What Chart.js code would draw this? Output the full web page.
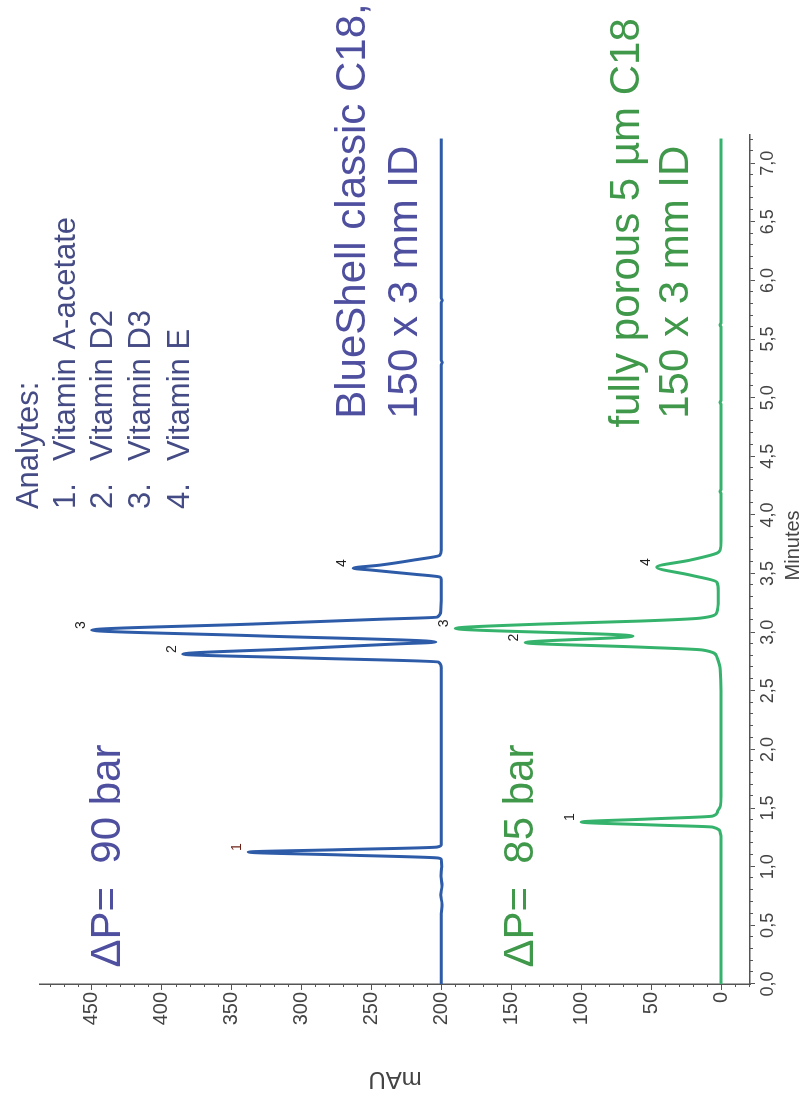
<!DOCTYPE html>
<html>
<head>
<meta charset="utf-8">
<script src="https://cdn.jsdelivr.net/npm/chart.js@4.4.1/dist/chart.umd.min.js"></script>
<style>
  html, body { margin: 0; padding: 0; background: #ffffff; overflow: hidden; }
  #page { position: relative; width: 805px; height: 1102px; background: #ffffff; }
  #wrap { position: absolute; left: 0; top: 0; width: 1102px; height: 805px;
          transform-origin: 0 0; transform: translateY(1102px) rotate(-90deg); }
  canvas { display: block; }
</style>
</head>
<body>
<div id="page"><div id="wrap"><canvas id="c" width="1102" height="805"></canvas></div></div>
<script>
// ---------------- data ----------------
const blueTimes  = [0, 0.30, 0.60, 0.68, 0.76, 0.84, 0.92, 1.00, 1.06, 1.074, 1.10, 1.125, 1.145, 1.168, 1.19, 1.40, 2.00, 2.50, 2.70, 2.745, 2.78, 2.813, 2.86, 2.90, 2.916, 2.97, 3.018, 3.07, 3.11, 3.129, 3.18, 3.30, 3.45, 3.47, 3.495, 3.51, 3.53, 3.546, 3.572, 3.615, 3.657, 3.70, 4.50, 5.28, 5.30, 5.32, 5.81, 5.83, 5.85, 7.21];
const blueValues = [200, 200, 200, 199.6, 200.4, 199.6, 200.3, 199.8, 200, 202, 270, 338, 274, 203, 200, 200, 200, 200, 200, 202, 296, 385, 302, 232, 204, 334, 450, 334, 245, 203, 200.5, 200, 200, 201, 220, 233, 250, 263, 244, 220, 201, 200, 200, 200, 199.3, 200, 200, 199.3, 200, 200];

const greenTimes  = [0, 0.50, 1.00, 1.25, 1.287, 1.338, 1.356, 1.381, 1.407, 1.432, 1.47, 1.517, 1.60, 2.00, 2.50, 2.677, 2.788, 2.848, 2.873, 2.911, 2.967, 3.032, 3.069, 3.095, 3.120, 3.171, 3.274, 3.35, 3.427, 3.487, 3.555, 3.615, 3.674, 3.70, 3.78, 4.18, 4.20, 4.22, 4.94, 4.96, 4.98, 5.60, 5.62, 5.64, 7.21];
const greenValues = [0, 0, 0, 0, 0.5, 6, 48, 100, 52, 6, 2.5, 0.5, 0, 0, 0, 0.5, 3, 13, 58, 140, 63, 190, 130, 58, 15, 3, 2, 2, 3, 22, 46, 22, 3, 0.7, 0, 0, 0.8, 0, 0, 0.8, 0, 0, 0.8, 0, 0];

const peakNames       = ['1', '2', '3', '4'];
const bluePeakTimes   = [1.125, 2.813, 3.018, 3.546];
const bluePeakValues  = [338, 385, 450, 263];
const greenPeakTimes  = [1.381, 2.911, 3.032, 3.555];
const greenPeakValues = [100, 140, 190, 46];

const minuteTicks = [0, 0.5, 1.0, 1.5, 2.0, 2.5, 3.0, 3.5, 4.0, 4.5, 5.0, 5.5, 6.0, 6.5, 7.0];
const mauTicks    = [0, 50, 100, 150, 200, 250, 300, 350, 400, 450];

const analyteNames = ['Vitamin A-acetate', 'Vitamin D2', 'Vitamin D3', 'Vitamin E'];

// ---------------- styles ----------------
const FONT = "'Liberation Sans', Arial, Helvetica, sans-serif";
const BLUE_LINE = '#2d5ba8';
const GREEN_LINE = '#35b36c';
const BLUE_TEXT = '#4f4fa0';
const GREEN_TEXT = '#40984a';
const LIST_TEXT = '#454c85';
const AXIS = '#555555';

// text annotations (time, mAU anchor; left/baseline)
const notes = [
  { text: 'Analytes:', t: 4.05, m: 488.5, size: 31, color: LIST_TEXT },
  { text: '1.', t: 4.05, m: 462.0, size: 31, color: LIST_TEXT },
  { text: '2.', t: 4.05, m: 435.5, size: 31, color: LIST_TEXT },
  { text: '3.', t: 4.05, m: 408.3, size: 31, color: LIST_TEXT },
  { text: '4.', t: 4.05, m: 380.5, size: 31, color: LIST_TEXT },
  { text: 'BlueShell classic C18,', t: 4.82, m: 254.6, size: 42, color: BLUE_TEXT },
  { text: '150 x 3 mm ID', t: 4.82, m: 217.4, size: 42, color: BLUE_TEXT },
  { text: 'fully porous 5 \u00b5m C18', t: 4.745, m: 58.7, size: 42, color: GREEN_TEXT },
  { text: '150 x 3 mm ID', t: 4.82, m: 23.6, size: 42, color: GREEN_TEXT },
  { text: '\u0394P=  90 bar', t: 0.14, m: 429.8, size: 42, color: BLUE_TEXT },
  { text: '\u0394P=  85 bar', t: 0.14, m: 134.5, size: 42, color: GREEN_TEXT }
];
const nameT = 4.46;
const nameM = [462.0, 435.5, 408.3, 380.5];

const toXY = (ts, vs) => ts.map((t, i) => ({ x: t, y: vs[i] }));

const decorPlugin = {
  id: 'decor',
  afterDraw(chart) {
    const ctx = chart.ctx;
    const X = chart.scales.x, Y = chart.scales.y;
    const ca = chart.chartArea;
    ctx.save();
    // minor ticks
    ctx.strokeStyle = AXIS;
    ctx.lineWidth = 1;
    for (let m = -20; m <= 480; m += 10) {
      if (m % 50 === 0) continue;
      const v = Math.round(Y.getPixelForValue(m)) + 0.5;
      ctx.beginPath(); ctx.moveTo(ca.left, v); ctx.lineTo(ca.left - 3, v); ctx.stroke();
    }
    for (let k = 1; k <= 72; k++) {
      if (k % 5 === 0) continue;
      const u = Math.round(X.getPixelForValue(k / 10)) + 0.5;
      ctx.beginPath(); ctx.moveTo(u, ca.bottom); ctx.lineTo(u, ca.bottom + 3); ctx.stroke();
    }
    // axis titles
    ctx.fillStyle = '#444444';
    ctx.font = '20px ' + FONT;
    ctx.textAlign = 'center';
    ctx.textBaseline = 'alphabetic';
    ctx.fillText('Minutes', X.getPixelForValue(3.74), ca.bottom + 49);
    ctx.save();
    ctx.translate(23, (ca.top + ca.bottom) / 2);
    ctx.rotate(-Math.PI / 2);
    ctx.font = '24px ' + FONT;
    ctx.textBaseline = 'middle';
    ctx.fillText('mAU', 0, 0);
    ctx.restore();
    // peak labels
    ctx.font = '14px ' + FONT;
    ctx.textAlign = 'center';
    ctx.textBaseline = 'middle';
    peakNames.forEach((n, i) => {
      ctx.fillStyle = i === 0 ? '#6b1f14' : '#222222';
      ctx.fillText(n, X.getPixelForValue(bluePeakTimes[i]) + 5, Y.getPixelForValue(bluePeakValues[i]) - 11);
      ctx.fillStyle = '#222222';
      ctx.fillText(n, X.getPixelForValue(greenPeakTimes[i]) + 5, Y.getPixelForValue(greenPeakValues[i]) - 11);
    });
    // text notes
    ctx.textAlign = 'left';
    ctx.textBaseline = 'alphabetic';
    notes.forEach(n => {
      ctx.font = n.size + 'px ' + FONT;
      ctx.fillStyle = n.color;
      ctx.fillText(n.text, X.getPixelForValue(n.t), Y.getPixelForValue(n.m));
    });
    ctx.font = '31px ' + FONT;
    ctx.fillStyle = LIST_TEXT;
    analyteNames.forEach((s, i) => {
      ctx.fillText(s, X.getPixelForValue(nameT), Y.getPixelForValue(nameM[i]));
    });
    ctx.restore();
  }
};

new Chart(document.getElementById('c').getContext('2d'), {
  type: 'line',
  data: {
    datasets: [
      { label: 'BlueShell classic C18', data: toXY(blueTimes, blueValues), borderColor: BLUE_LINE, borderWidth: 3,
        pointRadius: 0, fill: false, cubicInterpolationMode: 'monotone' },
      { label: 'fully porous 5 \u00b5m C18', data: toXY(greenTimes, greenValues), borderColor: GREEN_LINE, borderWidth: 3,
        pointRadius: 0, fill: false, cubicInterpolationMode: 'monotone' }
    ]
  },
  options: {
    responsive: false,
    animation: false,
    devicePixelRatio: 1,
    events: [],
    layout: { padding: { left: 0, top: 40, right: 135, bottom: 0 } },
    plugins: { legend: { display: false }, tooltip: { enabled: false } },
    scales: {
      x: {
        type: 'linear', min: 0, max: 7.24,
        afterBuildTicks: s => { s.ticks = minuteTicks.map(v => ({ value: v })); },
        afterFit: s => { s.height = 55; },
        ticks: { callback: v => v.toFixed(1).replace('.', ','), color: '#444444', padding: 2,
                 font: { family: FONT, size: 18 }, maxRotation: 0, autoSkip: false },
        grid: { drawOnChartArea: false, drawTicks: true, tickLength: 5, tickColor: AXIS, tickWidth: 1 },
        border: { display: true, color: AXIS, width: 1.5 }
      },
      y: {
        type: 'linear', min: -20.7, max: 487,
        afterBuildTicks: s => { s.ticks = mauTicks.map(v => ({ value: v })); },
        afterFit: s => { s.width = 118; },
        ticks: { callback: v => String(v), color: '#444444', padding: 2,
                 font: { family: FONT, size: 20 }, autoSkip: false },
        grid: { drawOnChartArea: false, drawTicks: true, tickLength: 6, tickColor: AXIS, tickWidth: 1 },
        border: { display: true, color: AXIS, width: 1.5 }
      }
    }
  },
  plugins: [decorPlugin]
});
</script>
</body>
</html>
